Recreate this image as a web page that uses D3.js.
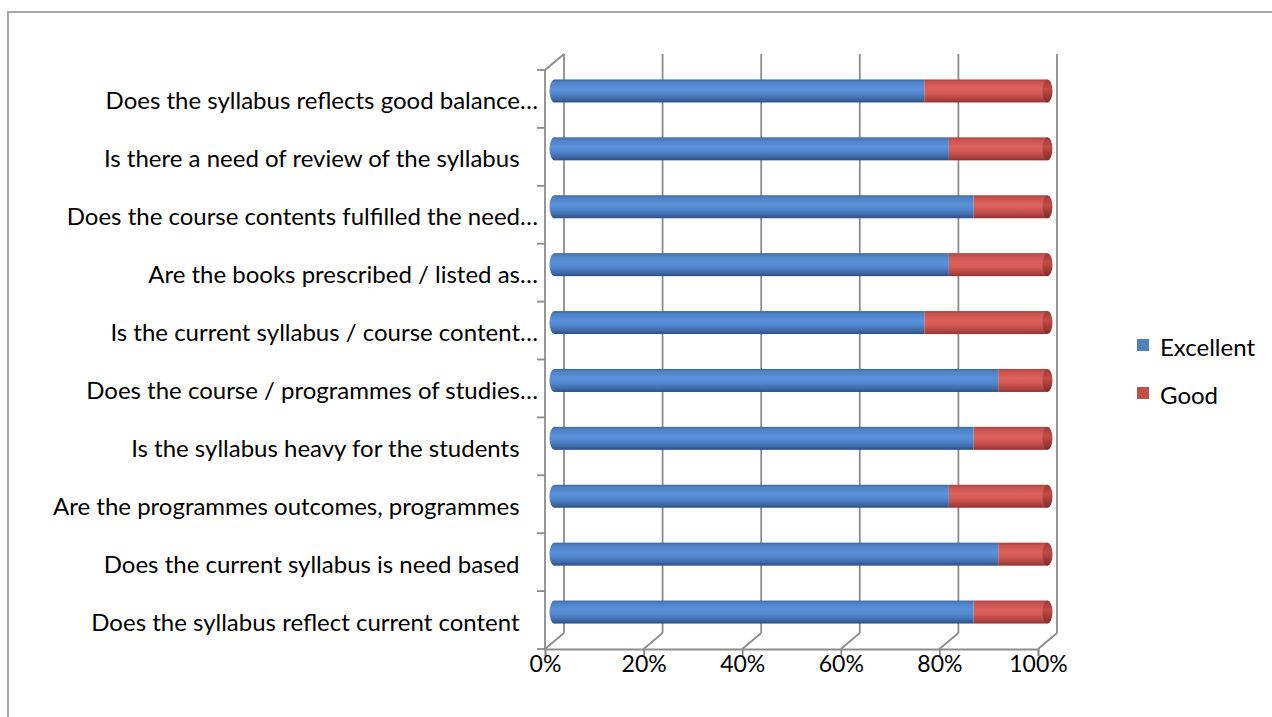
<!DOCTYPE html>
<html>
<head>
<meta charset="utf-8">
<script src="https://cdn.jsdelivr.net/npm/d3@7"></script>
<style>
  body { margin: 0; background: #fff; }
  svg text { font-family: Lato, "Open Sans", sans-serif; fill: #000; }
</style>
</head>
<body>
<div id="chart"></div>
<script>
// DATA (top to bottom as shown)
const categories = [
  "Does the syllabus reflects good balance\u2026",
  "Is there a need of review of the syllabus   ",
  "Does the course contents fulfilled the need\u2026",
  "Are the books prescribed / listed as\u2026",
  "Is the current syllabus / course content\u2026",
  "Does the course / programmes of studies\u2026",
  "Is the syllabus heavy for the students   ",
  "Are the programmes outcomes, programmes   ",
  "Does the current syllabus is need based   ",
  "Does the syllabus reflect current content   "
];
const excellent = [75, 80, 85, 80, 75, 90, 85, 80, 90, 85];
const good      = [25, 20, 15, 20, 25, 10, 15, 20, 10, 15];
const seriesNames = ["Excellent", "Good"];
const seriesColors = ["#4f81bd", "#c0504d"];
const xTicks = [0, 0.2, 0.4, 0.6, 0.8, 1];

// 1: SVG
const W = 1272, H = 717;
const svg = d3.select("#chart").append("svg")
    .attr("width", W).attr("height", H);

svg.append("rect").attr("width", W).attr("height", H).attr("fill", "#fff");
// outer chart border
svg.append("rect")
    .attr("x", 8).attr("y", 12)
    .attr("width", W + 20).attr("height", H + 20)
    .attr("fill", "none").attr("stroke", "#a6a6a6").attr("stroke-width", 2);

// 2: SCALES (front plane), 3d depth offset
const dx = 19, dy = -16;
const x = d3.scaleLinear().domain([0, 1]).range([545, 1038]);
const y = d3.scaleBand().domain(d3.range(categories.length)).range([70, 649]);

// stacked shares
const rows = categories.map((c, i) => {
  const tot = excellent[i] + good[i];
  return { i, c, e: excellent[i] / tot, g: good[i] / tot };
});

// gradients
const defs = svg.append("defs");
function grad(id, stops) {
  const g = defs.append("linearGradient").attr("id", id)
      .attr("x1", 0).attr("y1", 0).attr("x2", 0).attr("y2", 1);
  stops.forEach(s => g.append("stop").attr("offset", s[0]).attr("stop-color", s[1]));
}
grad("gBlue", [[0, "#3d68a8"], [0.12, "#4f82c6"], [0.4, "#5b91d9"], [0.6, "#5288cf"], [0.85, "#3f6aa8"], [1, "#2c4f80"]]);
grad("gRed", [[0, "#ad4340"], [0.12, "#c9534f"], [0.4, "#dc625d"], [0.6, "#d45a55"], [0.85, "#b24441"], [1, "#8e3330"]]);
grad("gRedCap", [[0, "#9c3a37"], [0.4, "#c24c48"], [1, "#7f2c2a"]]);

const gridColor = "#8c8c8c";
const fontSize = 24;

// 3: WALLS / GRIDLINES
const walls = svg.append("g").attr("stroke", gridColor).attr("stroke-width", 1.8).attr("fill", "none");
// back wall vertical gridlines
walls.selectAll("line.grid").data(xTicks).enter().append("line")
    .attr("class", "grid")
    .attr("x1", d => x(d) + dx).attr("x2", d => x(d) + dx)
    .attr("y1", y.range()[0] + dy).attr("y2", y.range()[1] + dy);
// floor diagonals
walls.selectAll("line.floor").data(xTicks).enter().append("line")
    .attr("class", "floor")
    .attr("x1", d => x(d)).attr("x2", d => x(d) + dx)
    .attr("y1", y.range()[1]).attr("y2", y.range()[1] + dy);
// side wall: top diagonal
walls.append("line")
    .attr("x1", x(0)).attr("y1", y.range()[0])
    .attr("x2", x(0) + dx).attr("y2", y.range()[0] + dy);

// 4: AXES
// category axis (ticks on band boundaries)
const boundaries = d3.range(categories.length + 1).map(k => y.range()[0] + k * y.step());
walls.append("line")
    .attr("x1", x(0)).attr("x2", x(0))
    .attr("y1", y.range()[0]).attr("y2", y.range()[1]);
walls.selectAll("line.ctick").data(boundaries).enter().append("line")
    .attr("class", "ctick")
    .attr("x1", x(0) - 8).attr("x2", x(0))
    .attr("y1", d => d).attr("y2", d => d);

svg.append("g").selectAll("text").data(rows).enter().append("text")
    .attr("x", 538)
    .attr("y", d => y(d.i) + y.bandwidth() / 2 + 1)
    .attr("text-anchor", "end")
    .attr("dominant-baseline", "central")
    .style("white-space", "pre")
    .attr("font-size", fontSize)
    .text(d => d.c);

// value axis (front floor edge)
const xAxis = svg.append("g")
    .attr("transform", `translate(0,${y.range()[1]})`)
    .call(d3.axisBottom(x).tickValues(xTicks).tickFormat(d3.format(".0%")).tickSize(7).tickPadding(0));
xAxis.select(".domain").attr("stroke", gridColor).attr("stroke-width", 1.8);
xAxis.selectAll(".tick line").attr("stroke", gridColor).attr("stroke-width", 1.8);
xAxis.selectAll(".tick text").attr("font-size", 23).attr("font-family", "Lato, sans-serif").attr("fill", "#000");

// 5: BARS (cylinders, at mid depth)
const barH = 23;
const rx = 5;
const bars = svg.append("g").selectAll("g.bar").data(rows).enter().append("g")
    .attr("class", "bar")
    .attr("transform", d => `translate(${dx / 2},${y(d.i) + y.bandwidth() / 2 + dy / 2 - barH / 2})`);

// good segment
bars.append("rect")
    .attr("x", d => x(d.e)).attr("y", 0)
    .attr("width", d => x(1) - x(d.e)).attr("height", barH)
    .attr("fill", "url(#gRed)");
bars.append("ellipse")
    .attr("cx", x(1)).attr("cy", barH / 2)
    .attr("rx", rx).attr("ry", barH / 2)
    .attr("fill", "url(#gRedCap)");
// excellent segment
bars.append("rect")
    .attr("x", x(0)).attr("y", 0)
    .attr("width", d => x(d.e) - x(0)).attr("height", barH)
    .attr("fill", "url(#gBlue)");
bars.append("ellipse")
    .attr("cx", x(0)).attr("cy", barH / 2)
    .attr("rx", rx).attr("ry", barH / 2)
    .attr("fill", "url(#gBlue)");

// 6: LEGEND
const legend = svg.append("g").selectAll("g").data(seriesNames).enter().append("g")
    .attr("transform", (d, i) => `translate(1137,${345 + i * 48})`);
legend.append("rect")
    .attr("x", 0).attr("y", -6).attr("width", 12).attr("height", 12)
    .attr("fill", (d, i) => seriesColors[i]);
legend.append("text")
    .attr("x", 23).attr("y", 1)
    .attr("dominant-baseline", "central")
    .attr("font-size", fontSize)
    .text(d => d);
</script>
</body>
</html>
